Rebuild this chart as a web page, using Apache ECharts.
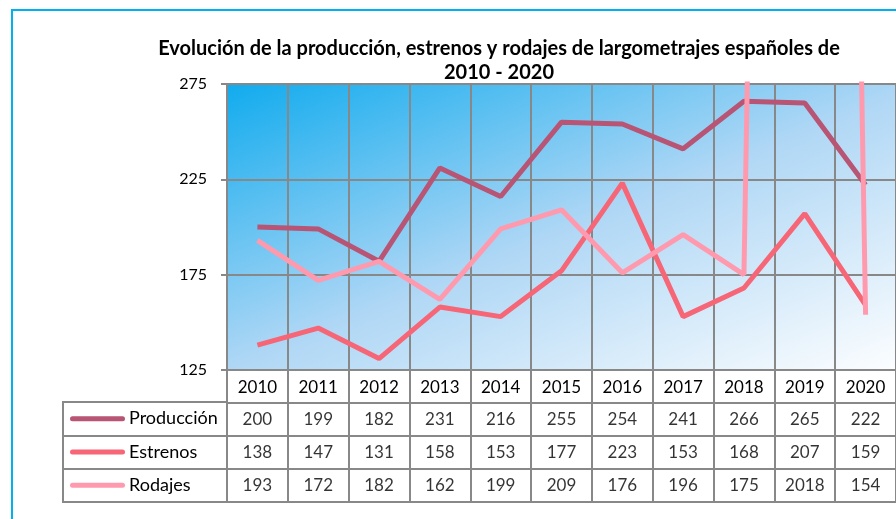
<!DOCTYPE html>
<html>
<head>
<meta charset="utf-8">
<script src="https://cdn.jsdelivr.net/npm/echarts@6/dist/echarts.min.js"></script>
<style>
  html, body { margin: 0; padding: 0; background: #fff; }
  #chart { width: 896px; height: 519px; }
</style>
</head>
<body>
<div id="chart"></div>
<script>
// data (data table under the chart)
const years = ['2010', '2011', '2012', '2013', '2014', '2015', '2016', '2017', '2018', '2019', '2020'];
const produccion = [200, 199, 182, 231, 216, 255, 254, 241, 266, 265, 222];
const estrenos = [138, 147, 131, 158, 153, 177, 223, 153, 168, 207, 159];
const rodajes = [193, 172, 182, 162, 199, 209, 176, 196, 175, 2018, 154];
const seriesNames = ['Producción', 'Estrenos', 'Rodajes'];
const seriesColors = ['#B85474', '#F66676', '#FF9AAE'];

const font = 'Lato, sans-serif';
const gridGray = '#888888';
const allValues = [produccion, estrenos, rodajes];

const chart = echarts.init(document.getElementById('chart'));

// cells of the data table: [column, row, value]
const tableCells = [];
allValues.forEach((vals, i) => {
    vals.forEach((v, j) => tableCells.push([j, i + 1, v]));
});

const rowKeys = {};
seriesNames.forEach((name, i) => {
    rowKeys['k' + i] = {
        width: 55, height: 5, borderRadius: 2.5,
        backgroundColor: seriesColors[i], verticalAlign: 'middle'
    };
});

const option = {
    animation: false,
    textStyle: {fontFamily: font},
    graphic: [{
        type: 'rect',
        shape: {x: 12, y: 10, width: 1000, height: 1000},
        style: {fill: 'none', stroke: '#00B0F0', lineWidth: 2},
        silent: true
    }],
    title: {
        text: 'Evolución de la producción, estrenos y rodajes de largometrajes españoles de\n2010 - 2020',
        left: 494,
        textAlign: 'center',
        top: 32,
        textStyle: {fontFamily: font, fontSize: 20, fontWeight: 'bold', color: '#000', lineHeight: 24}
    },
    grid: [
        {   // plot
            left: 227, top: 84, width: 680, height: 286,
            show: true, borderColor: gridGray, borderWidth: 2,
            backgroundColor: new echarts.graphic.LinearGradient(0, 0, 0.3, 1.7, [
                {offset: 0, color: '#10ABEE'},
                {offset: 0.5, color: '#AFD7F5'},
                {offset: 1, color: '#FFFFFF'}
            ])
        },
        {   // table, value columns
            left: 227, top: 370, width: 680, height: 132,
            show: true, borderColor: gridGray, borderWidth: 2
        },
        {   // table, name column
            left: 63, top: 402, width: 164, height: 100,
            show: true, borderColor: gridGray, borderWidth: 2
        }
    ],
    xAxis: [
        {
            gridIndex: 0, type: 'category', data: years,
            axisLine: {lineStyle: {color: gridGray, width: 2}},
            axisTick: {show: false},
            axisLabel: {fontFamily: font, fontSize: 17, color: '#000', margin: 9},
            splitLine: {show: true, lineStyle: {color: gridGray, width: 2}}
        },
        {
            gridIndex: 1, type: 'category', data: years,
            axisLine: {show: false}, axisTick: {show: false}, axisLabel: {show: false},
            splitLine: {show: true, lineStyle: {color: gridGray, width: 2}}
        },
        {
            gridIndex: 2, type: 'category', data: [''],
            axisLine: {show: false}, axisTick: {show: false}, axisLabel: {show: false}
        }
    ],
    yAxis: [
        {
            gridIndex: 0, type: 'value', min: 125, max: 275, interval: 50,
            axisLine: {show: true, lineStyle: {color: gridGray, width: 2}},
            axisTick: {show: true, length: 6, lineStyle: {color: gridGray, width: 2}},
            axisLabel: {fontFamily: font, fontSize: 16, color: '#000', margin: 20},
            splitLine: {show: true, lineStyle: {color: gridGray, width: 2}}
        },
        {
            gridIndex: 1, type: 'category', inverse: true,
            data: [''].concat(seriesNames),
            axisLine: {show: false}, axisTick: {show: false}, axisLabel: {show: false},
            splitLine: {show: true, lineStyle: {color: gridGray, width: 2}}
        },
        {
            gridIndex: 2, type: 'category', inverse: true, data: seriesNames,
            axisLine: {show: false}, axisTick: {show: false},
            axisLabel: {
                inside: true, margin: 7, align: 'left',
                fontFamily: font, fontSize: 18, color: '#000',
                formatter: (v, idx) => `{k${idx}|}{n|${v}}`,
                rich: Object.assign({n: {fontFamily: font, fontSize: 18, color: '#000', padding: [0, 0, 0, 4]}}, rowKeys)
            },
            splitLine: {show: true, lineStyle: {color: gridGray, width: 2}}
        }
    ],
    series: seriesNames.map((name, i) => ({
        name: name,
        type: 'line',
        xAxisIndex: 0, yAxisIndex: 0,
        data: allValues[i],
        symbol: 'none',
        clip: true,
        lineStyle: {color: seriesColors[i], width: 5},
        z: 3 + i
    })).concat([{
        type: 'scatter',
        xAxisIndex: 1, yAxisIndex: 1,
        data: tableCells,
        symbolSize: 0,
        silent: true,
        label: {
            show: true, position: 'inside',
            formatter: p => String(p.data[2]),
            fontFamily: font, fontSize: 17, color: '#000'
        }
    }])
};

chart.setOption(option);
</script>
</body>
</html>
